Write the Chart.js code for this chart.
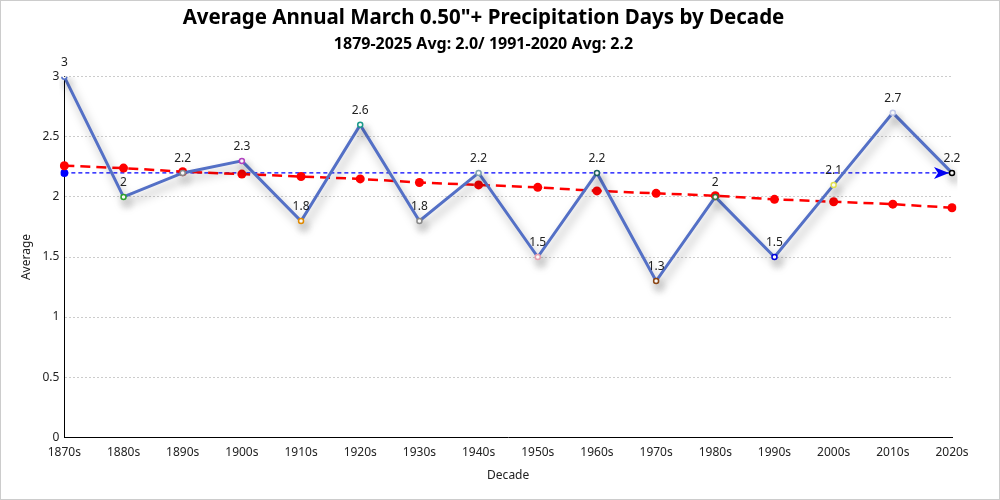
<!DOCTYPE html>
<html>
<head>
<meta charset="utf-8">
<script src="https://cdn.jsdelivr.net/npm/chart.js@4.4.1/dist/chart.umd.min.js"></script>
<style>
  html, body { margin: 0; padding: 0; background: #fff; }
  #wrap { width: 998px; height: 498px; border: 1px solid #ccc; position: relative; }
</style>
</head>
<body>
<div id="wrap"><canvas id="chart"></canvas></div>
<script>
// decades and the values
const decades = ['1870s', '1880s', '1890s', '1900s', '1910s', '1920s', '1930s', '1940s',
  '1950s', '1960s', '1970s', '1980s', '1990s', '2000s', '2010s', '2020s'];
const averages = [3, 2, 2.2, 2.3, 1.8, 2.6, 1.8, 2.2, 1.5, 2.2, 1.3, 2, 1.5, 2.1, 2.7, 2.2];
const trend = [2.26, 2.24, 2.21, 2.19, 2.17, 2.15, 2.12, 2.10, 2.08, 2.05, 2.03, 2.01, 1.98, 1.96, 1.94, 1.91];
const normal = [2.2, 2.2, 2.2, 2.2, 2.2, 2.2, 2.2, 2.2, 2.2, 2.2, 2.2, 2.2, 2.2, 2.2, 2.2, 2.2];
const pointColors = ['#5470c6', '#2ca02c', '#888888', '#b040c0', '#e08a00', '#1a9a8a', '#888888', '#7fa3b0',
  '#e8a0b0', '#1a6060', '#8b4513', '#3a7a3a', '#0000dd', '#e0e050', '#c0c8e8', '#000000'];

const FONT = '"Noto Sans", "Open Sans", sans-serif';
const last = decades.length - 1;

// shadow under the main line
const shadowPlugin = {
  id: 'lineShadow',
  beforeDatasetDraw(chart, args) {
    if (args.index !== 2) return;
    const ctx = chart.ctx;
    ctx.save();
    ctx.shadowColor = 'rgba(0,0,0,0.35)';
    ctx.shadowBlur = 10;
    ctx.shadowOffsetX = 3;
    ctx.shadowOffsetY = 6;
  },
  afterDatasetDraw(chart, args) {
    if (args.index === 1) {
      // arrowhead at the end of the average line
      const pt = chart.getDatasetMeta(1).data[last];
      const ctx = chart.ctx;
      ctx.save();
      ctx.fillStyle = '#0000ff';
      ctx.beginPath();
      ctx.moveTo(pt.x - 3, pt.y);
      ctx.lineTo(pt.x - 18, pt.y - 6);
      ctx.lineTo(pt.x - 14, pt.y);
      ctx.lineTo(pt.x - 18, pt.y + 6);
      ctx.closePath();
      ctx.fill();
      ctx.restore();
    }
    if (args.index !== 2) return;
    chart.ctx.restore();
  }
};

// value labels above main series points
const labelPlugin = {
  id: 'valueLabels',
  afterDatasetsDraw(chart) {
    const ctx = chart.ctx;
    const meta = chart.getDatasetMeta(2);
    ctx.save();
    ctx.font = '12px ' + FONT;
    ctx.fillStyle = '#222';
    ctx.textAlign = 'center';
    ctx.textBaseline = 'bottom';
    meta.data.forEach((pt, i) => {
      ctx.fillText(String(averages[i]), pt.x, pt.y - 8);
    });
    ctx.restore();
  }
};

new Chart(document.getElementById('chart'), {
  type: 'line',
  data: {
    labels: decades,
    datasets: [
      {
        label: 'Trend',
        data: trend,
        borderColor: '#ff0000',
        backgroundColor: '#ff0000',
        borderWidth: 2.5,
        borderDash: [10, 6],
        pointRadius: 4.5,
        pointBorderWidth: 0,
        pointBackgroundColor: '#ff0000',
        tension: 0,
        order: 2
      },
      {
        label: '1991-2020 Avg',
        data: normal,
        borderColor: '#0000ff',
        borderWidth: 1.2,
        borderDash: [4, 3],
        pointRadius: decades.map((d, i) => i === 0 ? 4 : 0),
        pointBackgroundColor: '#0000ff',
        pointBorderColor: '#0000ff',
        pointBorderWidth: 0,
        order: 3
      },
      {
        label: 'Average',
        data: averages,
        borderColor: '#5470c6',
        borderWidth: 3,
        pointRadius: 2.5,
        pointBorderWidth: 1.5,
        pointBorderColor: pointColors,
        pointBackgroundColor: '#ffffff',
        tension: 0,
        order: 1
      }
    ]
  },
  options: {
    responsive: true,
    maintainAspectRatio: false,
    animation: false,
    layout: { padding: { left: 14, right: 47, top: 0, bottom: 12 } },
    plugins: {
      legend: { display: false },
      tooltip: { enabled: false },
      title: {
        display: true,
        text: 'Average Annual March 0.50"+ Precipitation Days by Decade',
        color: '#000',
        font: { family: FONT, size: 20.5, weight: 'bold' },
        padding: { top: 5, bottom: 4 }
      },
      subtitle: {
        display: true,
        text: '1879-2025 Avg: 2.0/ 1991-2020 Avg: 2.2',
        color: '#000',
        font: { family: FONT, size: 16, weight: 'bold' },
        padding: { bottom: 23 }
      }
    },
    scales: {
      x: {
        offset: false,
        grid: { display: false, drawTicks: false },
        border: { color: '#000', width: 1 },
        ticks: { color: '#222', font: { family: FONT, size: 12 }, padding: 8, maxRotation: 0 },
        title: { display: true, text: 'Decade', color: '#222', font: { family: FONT, size: 12 }, padding: { top: 1 } }
      },
      y: {
        min: 0,
        max: 3,
        ticks: {
          stepSize: 0.5, color: '#222', font: { family: FONT, size: 12 }, padding: 5,
          callback: v => String(v)
        },
        grid: { color: '#cccccc', lineWidth: 1, drawTicks: false },
        border: { color: '#000', width: 1, dash: [2, 2] },
        title: { display: true, text: 'Average', color: '#222', font: { family: FONT, size: 12 }, padding: { bottom: 4 } }
      }
    }
  },
  plugins: [shadowPlugin, labelPlugin]
});
</script>
</body>
</html>
